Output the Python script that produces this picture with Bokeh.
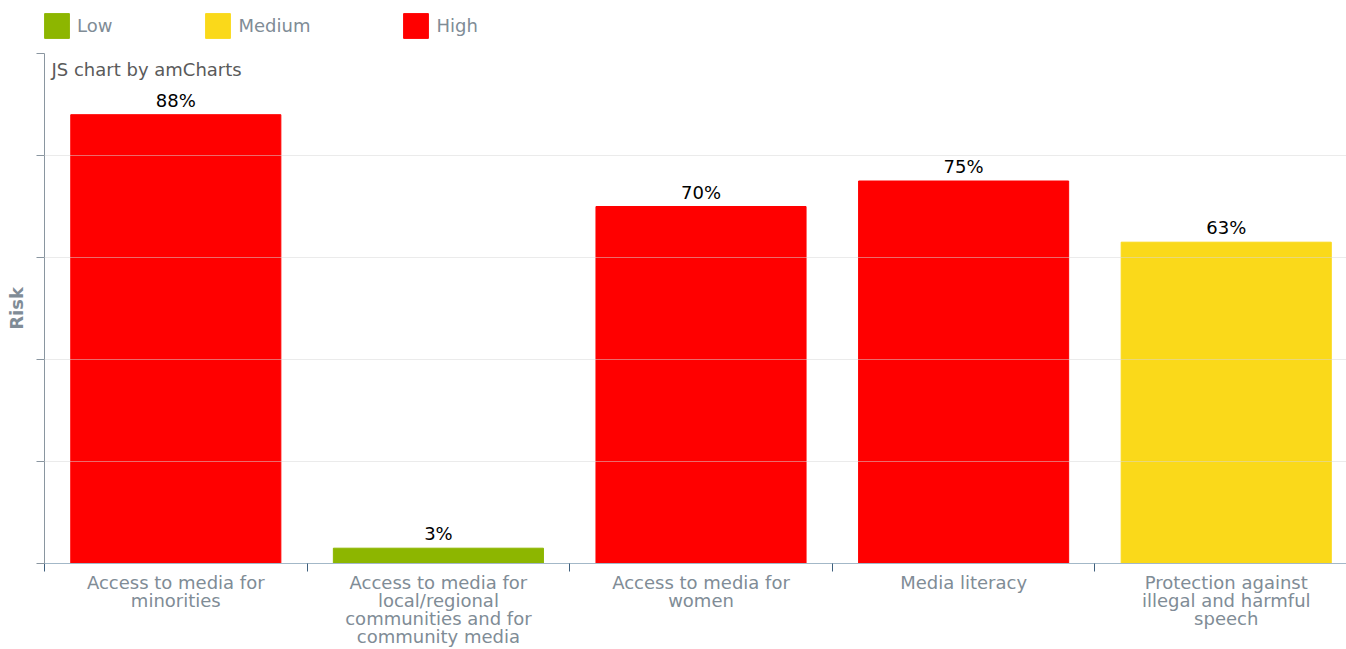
from bokeh.plotting import figure
from bokeh.layouts import column
from bokeh.models import (Range1d, FixedTicker, Legend, LegendItem, Label,
                          ColumnDataSource, CustomJSTickFormatter)
from bokeh.core.properties import value
from bokeh.embed import file_html
from bokeh.resources import INLINE

categories = [
    "Access to media for\nminorities",
    "Access to media for\nlocal/regional\ncommunities and for\ncommunity media",
    "Access to media for\nwomen",
    "Media literacy",
    "Protection against\nillegal and harmful\nspeech",
]
values = [88, 3, 70, 75, 63]
levels = ["High", "Low", "High", "High", "Medium"]
level_names = ["Low", "Medium", "High"]
level_colors = {"Low": "#8db600", "Medium": "#fad91a", "High": "#ff0000"}
y_ticks = [0, 20, 40, 60, 80, 100]

FONT = "DejaVu Sans"

centers = [i + 0.5 for i in range(len(categories))]
bounds = list(range(len(categories) + 1))

sources = {}
for lv in level_names:
    idx = [i for i, l in enumerate(levels) if l == lv]
    sources[lv] = ColumnDataSource(dict(x=[centers[i] for i in idx], top=[values[i] for i in idx]))

# ---------- legend strip ----------
top = figure(width=1346, height=52, output_backend="svg", toolbar_location=None,
             x_range=Range1d(0, 1), y_range=Range1d(0, 1), x_axis_type=None, y_axis_type=None,
             min_border=0)
top.outline_line_color = None
top.xgrid.visible = False
top.ygrid.visible = False
legend_renderers = {}
for lv in level_names:
    legend_renderers[lv] = top.vbar(x="x", top="top", width=0.8, source=sources[lv],
                                    fill_color=level_colors[lv], line_color=level_colors[lv],
                                    visible=False)
legend = Legend(items=[LegendItem(label=lv, renderers=[legend_renderers[lv]]) for lv in level_names],
                orientation="horizontal", location=(-3, 11),
                glyph_width=31, glyph_height=31, label_standoff=5, spacing=90,
                padding=0, margin=0, border_line_color=None, background_fill_alpha=0,
                inactive_fill_alpha=0,
                label_text_font=FONT, label_text_font_size="18px", label_text_color="#808c96")
top.add_layout(legend, "center")

# ---------- main chart ----------
p = figure(width=1346, height=597, output_backend="svg", toolbar_location=None,
           x_range=Range1d(0, 4.958), y_range=Range1d(0, 100),
           min_border_left=44, min_border_right=0, min_border_top=1, min_border_bottom=0)
p.outline_line_color = None
p.background_fill_color = "white"
p.border_fill_color = "white"

for lv in level_names:
    p.vbar(x="x", top="top", bottom=0, width=0.8, source=sources[lv],
           fill_color=level_colors[lv], line_color=level_colors[lv])

lab_src = ColumnDataSource(dict(x=centers, y=values, t=[f"{v}%" for v in values]))
p.text(x="x", y="y", text="t", source=lab_src, text_align="center", text_baseline="bottom",
       y_offset=-4, text_font=value(FONT), text_font_size="18px", text_color="#000000")

# grid
p.xgrid.visible = False
p.ygrid.ticker = FixedTicker(ticks=y_ticks)
p.ygrid.grid_line_color = "#d8d8d8"
p.ygrid.grid_line_alpha = 0.5
p.ygrid.level = "overlay"

# x axis
xa = p.xaxis[0]
xa.ticker = FixedTicker(ticks=centers, minor_ticks=bounds)
xa.major_label_overrides = {c: lab for c, lab in zip(centers, categories)}
xa.axis_line_color = "#a3b8c8"
xa.major_tick_line_color = None
xa.major_tick_in = 0
xa.major_tick_out = 0
xa.minor_tick_line_color = "#3e5f7d"
xa.minor_tick_in = 0
xa.minor_tick_out = 8
xa.major_label_standoff = 0
xa.major_label_text_font = FONT
xa.major_label_text_font_size = "18px"
xa.major_label_text_color = "#808c96"
xa.major_label_text_line_height = 0.86

# y axis
ya = p.yaxis[0]
ya.ticker = FixedTicker(ticks=y_ticks)
ya.formatter = CustomJSTickFormatter(code="return ''")
ya.major_label_standoff = 0
ya.major_tick_in = 0
ya.major_tick_out = 8
ya.minor_tick_line_color = None
ya.axis_line_color = "#8a96a0"
ya.major_tick_line_color = "#8a96a0"
ya.axis_label = "Risk"
ya.axis_label_text_font = FONT
ya.axis_label_text_font_size = "18px"
ya.axis_label_text_font_style = "bold"
ya.axis_label_text_color = "#808c96"
ya.axis_label_standoff = 10

# watermark text
p.add_layout(Label(x=0, y=100, x_offset=7, y_offset=-5, text="JS chart by amCharts",
                   text_baseline="top", text_font=FONT, text_font_size="18px",
                   text_color="#5a5a5a"))

layout = column(top, p, spacing=0)
open("out.html", "w").write(file_html(layout, INLINE))
